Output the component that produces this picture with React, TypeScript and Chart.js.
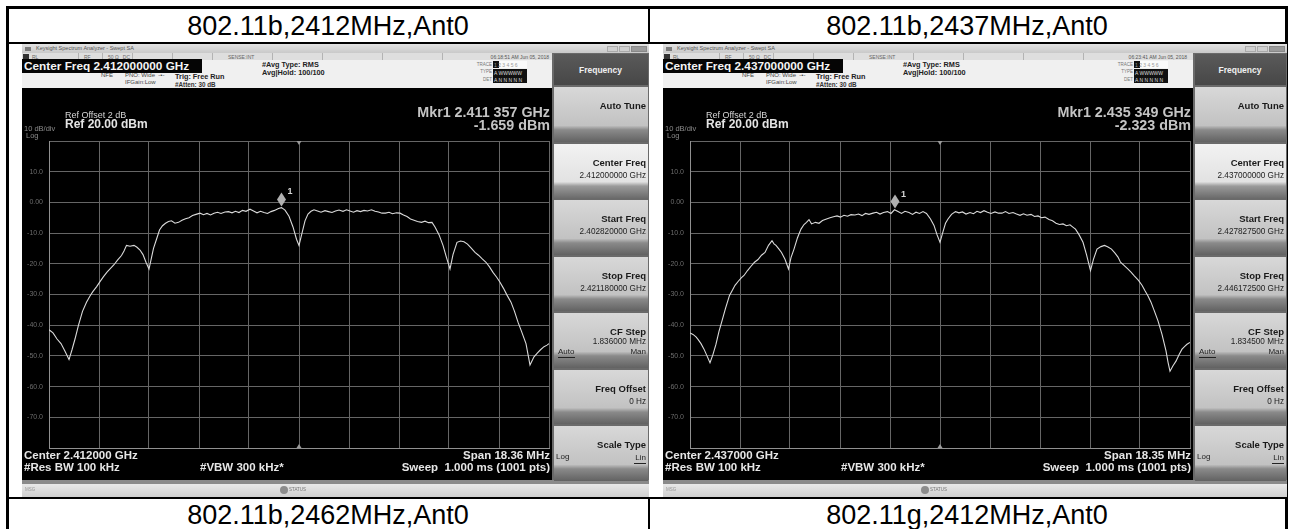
import React, { useEffect, useRef } from "react";
import { Chart, registerables } from "chart.js";

Chart.register(...registerables);

const FONT = "'Liberation Sans', Arial, Helvetica, sans-serif";

// ---- axis definitions (10 dB/div, ref 20 dBm, 10 divisions) ----
const yGridValues = [20, 10, 0, -10, -20, -30, -40, -50, -60, -70, -80];
const yTickLabels = ["", "10.0", "0.00", "-10.0", "-20.0", "-30.0", "-40.0", "-50.0", "-60.0", "-70.0", ""];
const xGridDivisions = [0, 1, 2, 3, 4, 5, 6, 7, 8, 9, 10];

// ---- table captions ----
const headerCaptions = ["802.11b,2412MHz,Ant0", "802.11b,2437MHz,Ant0"];
const footerCaptions = ["802.11b,2462MHz,Ant0", "802.11g,2412MHz,Ant0"];

// ---- trace 1: [screen division (0..10), level dBm] ----
const trace1: [number, number][] = [
  [0.0, -41.5], [0.08, -42.5], [0.16, -44.5], [0.24, -46.0], [0.32, -48.5], [0.4, -51.2], [0.46, -48.0], [0.52, -44.5],
  [0.59, -40.0], [0.67, -35.5], [0.75, -32.5], [0.82, -30.5], [0.88, -29.0], [0.95, -27.5], [1.02, -25.8], [1.09, -24.2],
  [1.16, -22.7], [1.23, -21.5], [1.3, -20.3], [1.37, -18.8], [1.45, -17.3], [1.5, -15.8], [1.55, -14.0], [1.62, -14.3],
  [1.7, -14.0], [1.76, -14.6], [1.82, -15.5], [1.88, -17.0], [1.94, -19.5], [2.0, -21.7], [2.05, -18.0], [2.09, -15.0],
  [2.15, -12.0], [2.21, -9.0], [2.27, -7.6], [2.33, -6.8], [2.39, -6.2], [2.45, -6.0], [2.52, -6.8], [2.59, -6.5],
  [2.66, -5.8], [2.73, -5.3], [2.8, -5.0], [2.87, -4.3], [2.94, -3.9], [3.02, -3.5], [3.09, -4.0], [3.16, -3.6],
  [3.23, -4.1], [3.3, -3.5], [3.37, -3.2], [3.44, -3.6], [3.52, -3.1], [3.59, -3.0], [3.66, -3.4], [3.73, -2.9],
  [3.8, -3.3], [3.87, -2.6], [3.94, -2.9], [4.02, -2.2], [4.09, -2.8], [4.16, -3.4], [4.23, -2.9], [4.3, -3.3],
  [4.37, -3.6], [4.44, -3.0], [4.51, -2.6], [4.59, -2.0], [4.65, -1.7], [4.72, -2.5], [4.8, -4.5], [4.88, -8.0],
  [4.95, -12.0], [5.0, -14.0], [5.06, -10.0], [5.12, -6.0], [5.18, -3.8], [5.24, -2.9], [5.3, -2.4], [5.37, -2.8],
  [5.44, -3.2], [5.52, -2.7], [5.59, -3.0], [5.66, -3.3], [5.73, -2.8], [5.8, -2.5], [5.88, -2.9], [5.95, -2.4],
  [6.02, -2.8], [6.09, -3.2], [6.16, -2.7], [6.23, -3.0], [6.3, -2.6], [6.37, -2.8], [6.45, -2.4], [6.52, -2.9],
  [6.59, -3.1], [6.66, -3.5], [6.73, -3.5], [6.8, -3.2], [6.87, -3.7], [6.95, -3.4], [7.02, -3.5], [7.09, -4.1],
  [7.16, -4.6], [7.23, -5.4], [7.3, -5.8], [7.37, -6.2], [7.45, -6.5], [7.52, -6.1], [7.59, -6.6], [7.66, -6.5],
  [7.72, -8.0], [7.8, -10.5], [7.88, -14.0], [7.95, -18.0], [8.02, -21.7], [8.08, -17.0], [8.16, -13.0], [8.23, -12.6],
  [8.3, -12.8], [8.37, -13.6], [8.44, -14.8], [8.52, -16.3], [8.59, -17.2], [8.66, -18.3], [8.74, -19.5], [8.81, -21.0],
  [8.88, -22.8], [8.95, -24.3], [9.02, -26.0], [9.09, -28.0], [9.16, -30.2], [9.24, -32.5], [9.31, -35.5], [9.38, -39.0],
  [9.45, -42.0], [9.54, -46.0], [9.62, -53.0], [9.7, -50.3], [9.77, -49.0], [9.83, -48.0], [9.9, -47.0], [9.96, -46.5],
  [10.0, -46.0],
];

// ---- trace 2: [screen division (0..10), level dBm] ----
const trace2: [number, number][] = [
  [0.0, -42.5], [0.06, -43.0], [0.12, -43.8], [0.16, -44.6], [0.22, -46.0], [0.28, -47.8], [0.34, -50.0], [0.4, -52.2],
  [0.46, -49.5], [0.52, -46.2], [0.58, -42.0], [0.64, -38.6], [0.71, -34.5], [0.79, -30.3], [0.85, -28.5], [0.9, -27.0],
  [0.97, -25.6], [1.03, -24.5], [1.08, -23.8], [1.15, -22.2], [1.22, -20.8], [1.29, -19.5], [1.36, -18.6], [1.43, -17.2],
  [1.5, -16.3], [1.57, -14.0], [1.64, -12.5], [1.68, -13.5], [1.72, -14.0], [1.78, -15.2], [1.83, -16.3], [1.9, -18.5],
  [1.97, -21.7], [2.02, -18.0], [2.08, -15.2], [2.15, -11.5], [2.22, -8.7], [2.28, -7.2], [2.33, -6.5], [2.38, -5.6],
  [2.43, -7.0], [2.51, -6.5], [2.58, -6.8], [2.65, -5.9], [2.73, -5.4], [2.8, -5.0], [2.87, -4.7], [2.94, -4.4],
  [3.01, -4.8], [3.08, -4.2], [3.15, -4.5], [3.22, -4.0], [3.3, -4.1], [3.37, -3.8], [3.44, -4.3], [3.51, -3.6],
  [3.58, -3.9], [3.66, -3.5], [3.73, -3.2], [3.8, -3.8], [3.87, -3.3], [3.95, -3.0], [4.02, -3.6], [4.09, -2.4],
  [4.16, -3.0], [4.23, -3.6], [4.3, -2.9], [4.38, -3.3], [4.45, -3.9], [4.52, -3.2], [4.59, -3.6], [4.66, -3.0],
  [4.73, -3.6], [4.81, -5.4], [4.88, -7.5], [4.94, -10.5], [5.0, -13.0], [5.06, -9.5], [5.11, -6.8], [5.16, -5.4],
  [5.23, -3.9], [5.31, -3.0], [5.38, -3.4], [5.45, -3.1], [5.52, -3.8], [5.6, -3.3], [5.67, -3.7], [5.74, -2.9],
  [5.81, -3.3], [5.88, -2.7], [5.95, -3.2], [6.02, -3.6], [6.1, -3.1], [6.17, -3.5], [6.24, -3.5], [6.31, -3.0],
  [6.38, -3.6], [6.46, -3.3], [6.53, -3.8], [6.6, -4.2], [6.67, -3.7], [6.74, -4.2], [6.82, -3.9], [6.89, -4.6],
  [6.96, -4.4], [7.03, -5.0], [7.1, -4.8], [7.18, -5.6], [7.25, -6.0], [7.32, -6.8], [7.39, -7.2], [7.46, -7.0],
  [7.53, -7.6], [7.6, -7.3], [7.67, -8.2], [7.71, -8.7], [7.78, -10.5], [7.86, -13.0], [7.93, -17.0], [8.01, -22.2],
  [8.07, -18.5], [8.14, -15.2], [8.22, -14.4], [8.29, -14.0], [8.36, -14.5], [8.43, -15.2], [8.5, -16.5], [8.56, -17.8],
  [8.61, -19.5], [8.68, -20.5], [8.75, -21.6], [8.82, -22.7], [8.89, -24.0], [8.97, -25.4], [9.04, -27.0], [9.1, -28.8],
  [9.16, -30.5], [9.22, -32.5], [9.29, -35.5], [9.36, -38.6], [9.44, -43.0], [9.52, -48.4], [9.56, -52.0], [9.6, -55.0],
  [9.66, -53.2], [9.72, -51.7], [9.78, -49.6], [9.84, -47.8], [9.9, -46.8], [9.94, -46.2], [10.0, -45.6],
];

// ---- analyzer settings per screenshot ----
const centerFreqs = ["2.412000000", "2.437000000"];
const centerShort = ["2.412000", "2.437000"];
const spansMHz = [18.36, 18.35];
const startFreqs = ["2.402820000", "2.427827500"];
const stopFreqs = ["2.421180000", "2.446172500"];
const cfSteps = ["1.836000", "1.834500"];
const markerFreqText = ["2.411 357", "2.435 349"];
const markerOffsetMHz = [-0.643, -1.651];
const markerLevels = [-1.659, -2.323];
const timestamps = ["06:18:51 AM Jun 05, 2018", "06:23:41 AM Jun 05, 2018"];
const traces = [trace1, trace2];

type TProps = {
  x: number; y: number; text: string; size: number; bold?: boolean; color?: string;
  align?: "left" | "right" | "center"; w?: number; family?: string;
};
function T({ x, y, text, size, bold, color = "#000", align = "left", w = 400, family = FONT }: TProps) {
  const left = align === "left" ? x : align === "right" ? x - w : x - w / 2;
  return (
    <div
      style={{
        position: "absolute", left, top: y - size * 0.6, width: w, height: size * 1.2,
        lineHeight: `${size * 1.2}px`, fontSize: size, fontWeight: bold ? 700 : 400, color,
        fontFamily: family, textAlign: align, whiteSpace: "pre", pointerEvents: "none",
      }}
    >
      {text}
    </div>
  );
}

function Box({ x, y, w, h, bg, style }: { x: number; y: number; w: number; h: number; bg: string; style?: any }) {
  return <div style={{ position: "absolute", left: x, top: y, width: w, height: h, background: bg, ...style }} />;
}

const DISP_W = 530;
const DISP_TOP = 44; // relative to screenshot top
const DISP_H = 392;

function SpectrumChart({ idx }: { idx: number }) {
  const ref = useRef<HTMLCanvasElement>(null);
  useEffect(() => {
    const span = spansMHz[idx];
    const toMHz = (d: number) => ((d - 5) * span) / 10;
    const pts = traces[idx].map(([d, v]) => ({ x: toMHz(d), y: v }));
    const mk = { x: markerOffsetMHz[idx], y: markerLevels[idx] };
    const markerPlugin = {
      id: "mkr",
      afterDatasetsDraw(chart: any) {
        const { ctx, scales, chartArea } = chart;
        const px = scales.x.getPixelForValue(mk.x);
        const py = scales.y.getPixelForValue(mk.y);
        ctx.save();
        ctx.fillStyle = "#b0b0b0";
        ctx.beginPath();
        ctx.moveTo(px, py - 1);
        ctx.lineTo(px + 4.5, py - 8);
        ctx.lineTo(px, py - 15);
        ctx.lineTo(px - 4.5, py - 8);
        ctx.closePath();
        ctx.fill();
        ctx.fillStyle = "#d5d5d5";
        ctx.font = `bold 9px ${FONT}`;
        ctx.fillText("1", px + 6, py - 13);
        const cx = scales.x.getPixelForValue(0);
        ctx.fillStyle = "#9a9a9a";
        ctx.beginPath();
        ctx.moveTo(cx - 2.5, chartArea.top);
        ctx.lineTo(cx + 2.5, chartArea.top);
        ctx.lineTo(cx, chartArea.top + 4);
        ctx.closePath();
        ctx.fill();
        ctx.beginPath();
        ctx.moveTo(cx - 2.5, chartArea.bottom);
        ctx.lineTo(cx + 2.5, chartArea.bottom);
        ctx.lineTo(cx, chartArea.bottom - 4);
        ctx.closePath();
        ctx.fill();
        ctx.restore();
      },
    };
    const chart = new Chart(ref.current as HTMLCanvasElement, {
      type: "scatter",
      data: {
        datasets: [
          {
            data: pts,
            showLine: true,
            borderColor: "#dadada",
            borderWidth: 1.1,
            pointRadius: 0,
            tension: 0,
          },
        ],
      },
      options: {
        animation: false,
        responsive: false,
        maintainAspectRatio: false,
        events: [],
        layout: { padding: { top: 53, right: 3, bottom: 32, left: 0 } },
        plugins: { legend: { display: false }, tooltip: { enabled: false } },
        scales: {
          x: {
            type: "linear",
            min: toMHz(0),
            max: toMHz(10),
            afterBuildTicks: (s: any) => {
              s.ticks = xGridDivisions.map((d) => ({ value: toMHz(d) }));
            },
            afterFit: (s: any) => {
              s.height = 0;
            },
            ticks: { display: false },
            grid: { color: "#666666", lineWidth: 1, drawTicks: false },
            border: { color: "#909090", width: 1 },
          },
          y: {
            type: "linear",
            min: -80,
            max: 20,
            afterBuildTicks: (s: any) => {
              s.ticks = yGridValues.map((v) => ({ value: v }));
            },
            afterFit: (s: any) => {
              s.width = 27;
            },
            ticks: {
              color: "#6c6c6c",
              font: { family: FONT, size: 7 },
              padding: 6,
              callback: (v: any) => yTickLabels[yGridValues.indexOf(Number(v))] ?? "",
            },
            grid: { color: "#666666", lineWidth: 1, drawTicks: false },
            border: { color: "#909090", width: 1 },
          },
        },
      },
      plugins: [markerPlugin],
    } as any);
    return () => chart.destroy();
  }, [idx]);
  return (
    <canvas
      ref={ref}
      width={DISP_W}
      height={DISP_H}
      style={{ position: "absolute", left: 0, top: DISP_TOP, width: DISP_W, height: DISP_H }}
    />
  );
}

const softkeyLabels = ["Auto Tune", "Center Freq", "Start Freq", "Stop Freq", "CF Step", "Freq Offset", "Scale Type"];

function Screenshot({ idx, x0, W }: { idx: number; x0: number; W: number }) {
  const H = 453;
  const pk = W - DISP_W; // softkey panel width
  const btnTop = 42;
  const pitch = 56.5;
  const sub: (string | null)[] = [
    null,
    `${centerFreqs[idx]} GHz`,
    `${startFreqs[idx]} GHz`,
    `${stopFreqs[idx]} GHz`,
    `${cfSteps[idx]} MHz`,
    "0 Hz",
    null,
  ];
  const tc = "#e6e6e6";
  return (
    <div style={{ position: "absolute", left: x0, top: 44, width: W, height: H, background: "#bdbdbd", overflow: "hidden" }}>
      {/* title bar */}
      <Box x={0} y={0} w={W} h={9} bg="linear-gradient(#e2e2e2,#c9c9c9)" />
      <Box x={3} y={3} w={6} h={4} bg="#7a7a7a" />
      <T x={14} y={4.5} text="Keysight Spectrum Analyzer - Swept SA" size={5.5} color="#555" />
      <Box x={W - 42} y={2} w={11} h={6} bg="#cfcfcf" style={{ border: "1px solid #aaa", boxSizing: "border-box" }} />
      <Box x={W - 30} y={2} w={11} h={6} bg="#cfcfcf" style={{ border: "1px solid #aaa", boxSizing: "border-box" }} />
      <Box x={W - 18} y={2} w={16} h={6} bg="#9a9a9a" style={{ border: "1px solid #888", boxSizing: "border-box" }} />
      {/* status row */}
      <Box x={0} y={9} w={DISP_W} h={7} bg="#dedede" />
      <Box x={1} y={10} w={6} h={5} bg="#333" />
      <T x={10} y={12.5} text="RL" size={5} color="#666" />
      <T x={62} y={12.5} text="RF" size={5} color="#666" />
      <T x={86} y={12.5} text="50 Ω   DC" size={5} color="#666" />
      <T x={206} y={12.5} text="SENSE:INT" size={5} color="#666" />
      <T x={W - 100} y={12.5} text={timestamps[idx]} size={5} color="#555" align="right" w={200} />
      {[56, 80, 110, 150, 190, 250, 300, 360, 420].map((sx, i) => (
        <Box key={i} x={sx} y={9} w={1} h={7} bg="#b3b3b3" />
      ))}
      {/* info area */}
      <Box x={0} y={16} w={DISP_W} h={28} bg="#f0f0f0" />
      <Box x={0} y={15} w={180} h={14} bg="#050505" />
      <T x={2} y={22.5} text={`Center Freq ${centerFreqs[idx]} GHz`} size={11.8} bold color="#f4f4f4" />
      <T x={79} y={31.5} text="NFE" size={6} color="#444" />
      <T x={103} y={31.5} text="PNO: Wide  -•-" size={6} color="#444" />
      <T x={103} y={38.5} text="IFGain:Low" size={6} color="#444" />
      <T x={153} y={33} text="Trig: Free Run" size={7.3} bold color="#222" />
      <T x={153} y={40.5} text="#Atten: 30 dB" size={6.3} bold color="#333" />
      <T x={240} y={21} text="#Avg Type: RMS" size={7.3} bold color="#222" />
      <T x={240} y={29} text="Avg|Hold: 100/100" size={7.3} bold color="#222" />
      <T x={470} y={20.5} text="TRACE" size={4.5} color="#777" align="right" w={60} />
      <T x={470} y={28} text="TYPE" size={4.5} color="#777" align="right" w={60} />
      <T x={470} y={35.5} text="DET" size={4.5} color="#777" align="right" w={60} />
      <Box x={471} y={17} w={34} h={7} bg="#fafafa" />
      <Box x={471} y={17} w={6} h={7} bg="#111" />
      <T x={472} y={20.5} text="1 2 3 4 5 6" size={5} color="#999" />
      <Box x={471} y={25} w={34} h={7} bg="#111" />
      <T x={472} y={28.5} text="A WWWWW" size={5} color="#ddd" />
      <Box x={471} y={32} w={34} h={7} bg="#111" />
      <T x={472} y={35.5} text="A N N N N N" size={5} color="#ddd" />
      {/* display */}
      <Box x={0} y={DISP_TOP} w={DISP_W} h={DISP_H} bg="#000" />
      <SpectrumChart idx={idx} />
      <T x={43} y={71} text="Ref Offset 2 dB" size={9} color="#d4d4d4" />
      <T x={43} y={80.5} text="Ref 20.00 dBm" size={12} bold color="#e4e4e4" />
      <T x={2} y={84.5} text="10 dB/div" size={7.5} color="#8a8a8a" />
      <T x={4} y={91} text="Log" size={7.5} color="#8a8a8a" />
      <T x={DISP_W - 2} y={69} text={`Mkr1 ${markerFreqText[idx]} GHz`} size={14.3} bold color="#c4c4c4" align="right" />
      <T x={DISP_W - 2} y={81.5} text={`${markerLevels[idx]} dBm`} size={14.3} bold color="#c4c4c4" align="right" />
      <T x={2} y={412} text={`Center ${centerShort[idx]} GHz`} size={11.5} bold color={tc} />
      <T x={DISP_W - 2} y={412} text={`Span ${spansMHz[idx]} MHz`} size={11.5} bold color={tc} align="right" />
      <T x={2} y={424} text="#Res BW 100 kHz" size={11.5} bold color={tc} />
      <T x={178} y={424} text="#VBW 300 kHz*" size={11.5} bold color={tc} />
      <T x={DISP_W - 2} y={424} text="Sweep  1.000 ms (1001 pts)" size={11.5} bold color={tc} align="right" />
      {/* message bar */}
      <Box x={0} y={436} w={W} h={4} bg="#8a8a8a" />
      <Box x={0} y={440} w={W} h={13} bg="linear-gradient(#e8e8e8,#cfcfcf)" />
      <T x={3} y={446} text="MSG" size={4.5} color="#999" />
      <Box x={258} y={442} w={8} h={8} bg="#8c8c8c" style={{ borderRadius: 4 }} />
      <T x={267} y={446} text="STATUS" size={4.5} color="#777" />
      {/* softkey panel */}
      <Box x={DISP_W} y={9} w={pk} h={427} bg="#6a6a6a" />
      <Box x={DISP_W + 2} y={10} w={pk - 3} h={31} bg="linear-gradient(#5a5a5a,#474747)" />
      <T x={DISP_W + pk / 2} y={26} text="Frequency" size={8.5} bold color="#f0f0f0" align="center" w={pk} />
      {softkeyLabels.map((lab, i) => {
        const top = btnTop + pitch * i;
        const light = i === 1;
        return (
          <React.Fragment key={lab}>
            <Box
              x={DISP_W + 2}
              y={top + 1}
              w={pk - 3}
              h={pitch - 2}
              bg={
                light
                  ? "linear-gradient(#f2f2f2 0%,#e2e2e2 70%,#9a9a9a 78%,#6c6c6c 100%)"
                  : "linear-gradient(#d8d8d8 0%,#c2c2c2 70%,#8a8a8a 78%,#626262 100%)"
              }
            />
            <T x={W - 3} y={top + 20} text={lab} size={9.5} bold color="#1a1a1a" align="right" />
            {sub[i] && <T x={W - 3} y={top + (i === 4 ? 30 : 33)} text={sub[i] as string} size={8.2} color="#222" align="right" />}
            {i === 4 && (
              <>
                <T x={DISP_W + 6} y={top + 40} text="Auto" size={8} color="#222" />
                <Box x={DISP_W + 6} y={top + 44.5} w={17} h={0.8} bg="#222" />
                <T x={W - 3} y={top + 40} text="Man" size={8} color="#222" align="right" />
              </>
            )}
            {i === 6 && (
              <>
                <T x={DISP_W + 4} y={top + 32} text="Log" size={8} color="#222" />
                <T x={W - 3} y={top + 33} text="Lin" size={8} color="#222" align="right" />
                <Box x={W - 15} y={top + 37.5} w={12} h={0.8} bg="#222" />
              </>
            )}
          </React.Fragment>
        );
      })}
    </div>
  );
}

export default function App() {
  const capStyle = (cx: number, cy: number): any => ({
    position: "absolute",
    left: cx - 250,
    top: cy - 17,
    width: 500,
    height: 34,
    lineHeight: "34px",
    textAlign: "center",
    fontFamily: FONT,
    fontSize: 27,
    color: "#000",
  });
  return (
    <div style={{ position: "fixed", left: 0, top: 0, width: 1289, height: 529, background: "#fff", overflow: "hidden" }}>
      {/* table lines */}
      <Box x={6} y={6} w={1282} h={3} bg="#000" />
      <Box x={6} y={6} w={3} h={523} bg="#000" />
      <Box x={1285} y={6} w={3} h={523} bg="#000" />
      <Box x={9} y={42} w={1276} h={2} bg="#000" />
      <Box x={648} y={9} w={2} h={34} bg="#000" />
      <Box x={9} y={497} w={1276} h={2} bg="#000" />
      <Box x={648} y={497} w={2} h={32} bg="#000" />
      <div style={capStyle(328, 26)}>{headerCaptions[0]}</div>
      <div style={capStyle(967, 26)}>{headerCaptions[1]}</div>
      <div style={capStyle(328, 515)}>{footerCaptions[0]}</div>
      <div style={capStyle(967, 515)}>{footerCaptions[1]}</div>
      <Screenshot idx={0} x0={22} W={627} />
      <Screenshot idx={1} x0={663} W={624} />
    </div>
  );
}
